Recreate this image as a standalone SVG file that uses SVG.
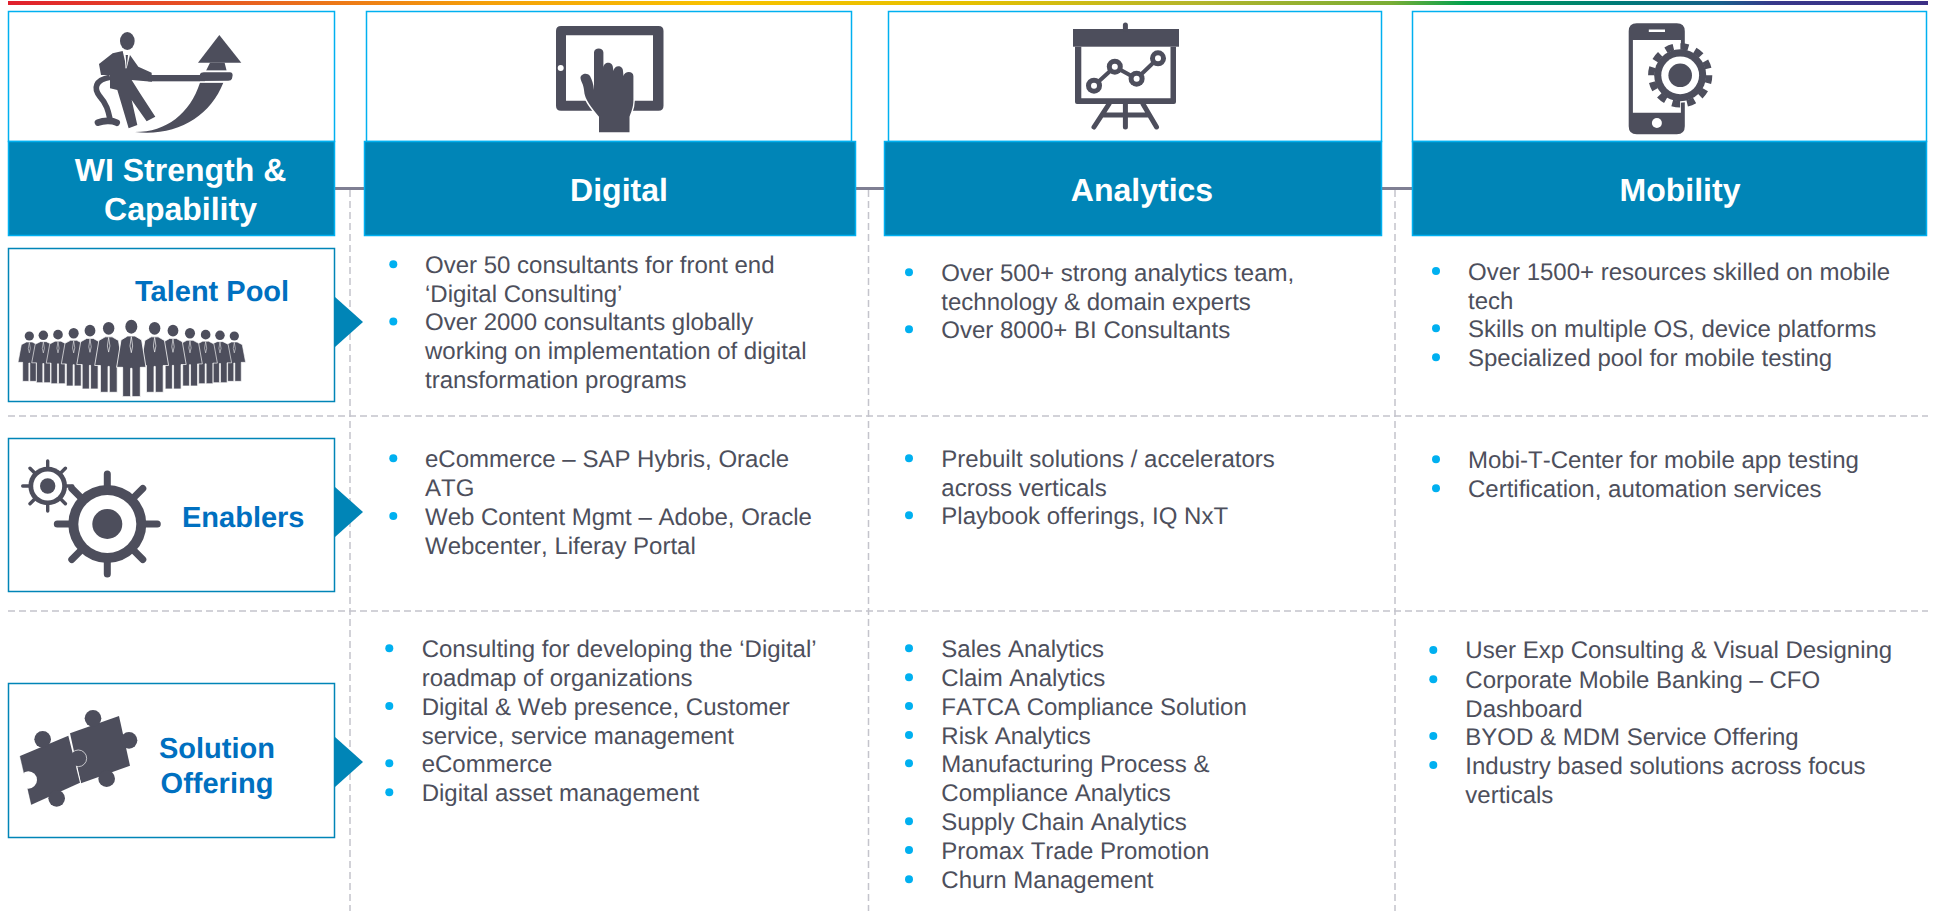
<svg xmlns="http://www.w3.org/2000/svg" xmlns:xlink="http://www.w3.org/1999/xlink" width="1933" height="911" viewBox="0 0 1933 911">
<style>
text{font-family:"Liberation Sans",Arial,sans-serif;text-rendering:geometricPrecision}
.b{font-size:24px;fill:#4d4f5c;font-kerning:none}
.h{font-size:32px;font-weight:700;fill:#fff;text-anchor:middle}
.r{font-size:29px;font-weight:700;fill:#0070c0}
.top{fill:#fff;stroke:#00b0f0;stroke-width:1.5}
.head{fill:#0085b7;stroke:#00b0f0;stroke-width:1.5}
.row{fill:#fff;stroke:#0085b7;stroke-width:1.5}
.tri{fill:#0085b7}
.dot{fill:#00b0f0}
.ic{fill:#4d4e5c}
.dash{stroke:#c4c4cc;stroke-width:1.5;stroke-dasharray:7 4;fill:none}
.link{stroke:#7f7f93;stroke-width:3;fill:none}
</style>
<defs>
<linearGradient id="rainbow" x1="8" x2="1928" y1="0" y2="0" gradientUnits="userSpaceOnUse">
<stop offset="0" stop-color="#e01f2d"/>
<stop offset="0.13" stop-color="#e8641f"/>
<stop offset="0.25" stop-color="#f5a00a"/>
<stop offset="0.37" stop-color="#f8c200"/>
<stop offset="0.5" stop-color="#e6c000"/>
<stop offset="0.62" stop-color="#b4b52c"/>
<stop offset="0.72" stop-color="#7aad35"/>
<stop offset="0.76" stop-color="#00a04f"/>
<stop offset="0.84" stop-color="#007a78"/>
<stop offset="0.89" stop-color="#17608a"/>
<stop offset="0.92" stop-color="#38388a"/>
<stop offset="1" stop-color="#3c2f85"/>
</linearGradient>
<g id="person">
<ellipse cx="0" cy="0" rx="18" ry="21" fill="#4d4e5c"/>
<path d="M-11 28L11 28L31 40L44 122L27 122L27 210L2 210L2 125L-2 125L-2 210L-26 210L-26 122L-44 122L-31 40Z" fill="#4d4e5c" stroke="#fff" stroke-width="2.500"/>
<path d="M0 30L-4 58L0 78L4 58Z" fill="none" stroke="#fff" stroke-width="2"/>
</g>
</defs>
<rect x="8" y="1" width="1920" height="4" fill="url(#rainbow)"/>

<g id="connectors">
<path class="dash" d="M8 416H1928M8 611H1928"/>
<path class="dash" d="M350 190V911M868.500 190V911M1395 190V911"/>
<path class="link" d="M335 188.500H364M856 188.500H884M1382 188.500H1412"/>
</g>

<g id="col-capability">
<rect class="top" x="8.500" y="11.500" width="326" height="130"/>
<rect class="head" x="8.500" y="141.500" width="326" height="94"/>
<g transform="scale(.3333)" class="ic">
<ellipse cx="382" cy="123" rx="22" ry="27"/>
<path d="M297 192L338 160L368 153L380 205L390 165L415 200L455 218L456 245L395 240L420 280L466 350L440 364L395 300L412 375L386 385L352 270L330 265L330 225L303 225Z"/>
<path d="M375 155L378 205L383 155" fill="#fff" stroke="#fff" stroke-width="2"/>
<path d="M377 165L380 203L384 165Z"/>
<path d="M330 232C285 240 280 265 300 290C322 315 325 335 330 358" fill="none" stroke="#4d4e5c" stroke-width="17"/>
<path d="M294 368C310 362 335 360 350 368" fill="none" stroke="#4d4e5c" stroke-width="20" stroke-linecap="round"/>
<path d="M658 105L724 188L594 188Z"/>
<path d="M630 188L674 188L680 212L618 212Z"/>
<path d="M405 396C500 396 570 340 600 248L670 248C630 350 530 410 405 396Z"/>
<rect x="445" y="225" width="170" height="19"/>
<path d="M600 222Q602 217 612 217L690 217Q698 217 698 226L696 236Q694 242 685 242L600 243Z"/>
<path d="M604 213H690M600 246H690" stroke="#fff" stroke-width="3" fill="none"/>
</g>
<text class="h" x="180.500" y="180.500">WI Strength &amp;</text>
<text class="h" x="180.500" y="219.500">Capability</text>
</g>

<g id="col-digital">
<rect class="top" x="366.500" y="11.500" width="485" height="130"/>
<rect class="head" x="364.500" y="141.500" width="491" height="94"/>
<g class="ic">
<path fill-rule="evenodd" d="M561 26H658.500Q663.500 26 663.500 31V105.700Q663.500 110.700 658.500 110.700H561Q556 110.700 556 105.700V31Q556 26 561 26ZM566 35.300V100.700H653V35.300Z"/>
<circle cx="560.700" cy="68" r="3" fill="#fff"/>
<path d="M594 52.500C594 47 603.400 47 603.400 52.500L603.400 68C603.400 61 613 61 613 68L613.500 71C614 64.500 623 64.500 623 71L623.500 76C624.500 70.500 633.400 70.500 633.400 76L633.400 100C633.400 108 631 112 629.500 116.700V132.300H599V116.700C592 108 584.500 100 584 90C583.500 84 581 82 580.500 78C580.500 74 587 72 590 76C592 80 593.500 84 594 90Z" stroke="#fff" stroke-width="3" paint-order="stroke"/>
</g>
<text class="h" x="619" y="201">Digital</text>
</g>

<g id="col-analytics">
<rect class="top" x="888.500" y="11.500" width="493" height="130"/>
<rect class="head" x="884.500" y="141.500" width="497" height="94"/>
<g class="ic">
<rect x="1073" y="29" width="106" height="17.700"/>
<path d="M1125.400 25V29" stroke="#4d4e5c" stroke-width="5" stroke-linecap="round"/>
<path fill-rule="evenodd" d="M1075 46.700H1176V102Q1176 104 1174 104H1077Q1075 104 1075 102ZM1081.300 46.700V98.300H1170.500V46.700Z"/>
<path d="M1094 85.700L1114.800 66.700L1136.600 78.700L1158 58.300" fill="none" stroke="#4d4e5c" stroke-width="4"/>
<circle cx="1094" cy="85.700" r="8"/><circle cx="1114.800" cy="66.700" r="8"/><circle cx="1136.600" cy="78.700" r="8"/><circle cx="1158" cy="58.300" r="8"/>
<g fill="#fff"><circle cx="1094" cy="85.700" r="3"/><circle cx="1114.800" cy="66.700" r="3"/><circle cx="1136.600" cy="78.700" r="3"/><circle cx="1158" cy="58.300" r="3"/></g>
<path d="M1109 104L1094 127M1143 104L1156.500 127M1125.400 104V127M1103 115H1148" fill="none" stroke="#4d4e5c" stroke-width="5" stroke-linecap="round"/>
</g>
<text class="h" x="1142" y="201">Analytics</text>
</g>

<g id="col-mobility">
<rect class="top" x="1412.500" y="11.500" width="514" height="130"/>
<rect class="head" x="1412.500" y="141.500" width="514" height="94"/>
<g class="ic">
<path fill-rule="evenodd" d="M1636.700 23.300H1676.800Q1684.800 23.300 1684.800 31.300V126.300Q1684.800 134.300 1676.800 134.300H1636.700Q1628.700 134.300 1628.700 126.300V31.300Q1628.700 23.300 1636.700 23.300ZM1632.900 40V112.700H1680.900V40Z"/>
<rect x="1648.800" y="29.500" width="16.200" height="2.500" fill="#fff"/>
<circle cx="1656.900" cy="123" r="5" fill="#fff"/>
<circle cx="1680.200" cy="75.300" r="26" stroke="#fff" stroke-width="3"/>
<circle cx="1680.200" cy="75.300" r="26"/>
<circle cx="1680.200" cy="75.300" r="28.800" fill="none" stroke="#4d4e5c" stroke-width="6.600" stroke-dasharray="8 7.080"/>
<circle cx="1680.200" cy="75.300" r="18.900" fill="#fff"/>
<circle cx="1680.200" cy="75.300" r="11.800"/>
</g>
<text class="h" x="1680" y="201">Mobility</text>
</g>

<g id="row-talent">
<rect class="row" x="8.500" y="248.500" width="326" height="153"/>
<path class="tri" d="M335 297L363 322L335 347Z"/>
<g transform="translate(0 240) scale(.3333)">
<use xlink:href="#person" href="#person" transform="translate(88 288) scale(.77 .648)"/>
<use xlink:href="#person" href="#person" transform="translate(703 288) scale(.77 .648)"/>
<use xlink:href="#person" href="#person" transform="translate(130 286) scale(.79 .676)"/>
<use xlink:href="#person" href="#person" transform="translate(660 286) scale(.79 .676)"/>
<use xlink:href="#person" href="#person" transform="translate(174 284) scale(.8 .7)"/>
<use xlink:href="#person" href="#person" transform="translate(617 284) scale(.8 .7)"/>
<use xlink:href="#person" href="#person" transform="translate(221 280) scale(.84 .752)"/>
<use xlink:href="#person" href="#person" transform="translate(570 280) scale(.84 .752)"/>
<use xlink:href="#person" href="#person" transform="translate(270 272) scale(.9 .833)"/>
<use xlink:href="#person" href="#person" transform="translate(519 272) scale(.9 .833)"/>
<use xlink:href="#person" href="#person" transform="translate(326 265) scale(.95 .914)"/>
<use xlink:href="#person" href="#person" transform="translate(464 265) scale(.95 .914)"/>
<use xlink:href="#person" href="#person" transform="translate(394 260)"/>
</g>
<text class="r" x="135" y="300.500">Talent Pool</text>
</g>

<g id="row-enablers">
<rect class="row" x="8.500" y="438.500" width="326" height="153"/>
<path class="tri" d="M335 487L363 512L335 537Z"/>
<g class="ic">
<g transform="translate(47.700 486)">
<path d="M0-25V25M-25 0H25M-17.700-17.700L17.700 17.700M-17.700 17.700L17.700-17.700" stroke="#4d4e5c" stroke-width="3.400" stroke-linecap="round"/>
<circle r="19.300"/><circle r="14.500" fill="#fff"/><circle r="7.700"/>
</g>
<g transform="translate(107.300 524)">
<path d="M0-50V50M-50 0H50M-35.500-35.500L35.500 35.500M-35.500 35.500L35.500-35.500" stroke="#4d4e5c" stroke-width="7" stroke-linecap="round"/>
<circle r="39"/><circle r="29" fill="#fff"/><circle r="15"/>
</g>
</g>
<text class="r" x="182" y="526.500">Enablers</text>
</g>

<g id="row-solution">
<rect class="row" x="8.500" y="683.500" width="326" height="154"/>
<path class="tri" d="M335 737L363 762L335 787Z"/>
<g transform="translate(0 600) scale(.3333)" class="ic">
<path d="M210 400L357 348L390 497L243 550Z"/>
<circle cx="279" cy="355" r="25"/><circle cx="387" cy="421" r="25"/><circle cx="320" cy="536" r="25"/>
<path d="M60 468L205 407L240 548L94 614Z" stroke="#fff" stroke-width="5"/>
<circle cx="235" cy="475" r="25" stroke="#fff" stroke-width="2"/>
<path d="M60 468L205 407L240 548L94 614Z"/>
<circle cx="128" cy="418" r="25"/><circle cx="170" cy="595" r="25"/>
<circle cx="85" cy="540" r="26" fill="#fff"/>
<path d="M60 468L72 520M84 568L94 614" stroke="#4d4e5c" stroke-width="1"/>
</g>
<text class="r" x="217" y="757.500" text-anchor="middle">Solution</text>
<text class="r" x="217" y="792.500" text-anchor="middle">Offering</text>
</g>

<g id="talent-digital">
<circle class="dot" cx="393.300" cy="264.300" r="4"/><circle class="dot" cx="393.300" cy="321.500" r="4"/>
<text class="b" x="425" y="272.500">Over 50 consultants for front end</text>
<text class="b" x="425" y="301.700">‘Digital Consulting’</text>
<text class="b" x="425" y="330">Over 2000 consultants globally</text>
<text class="b" x="425" y="359">working on implementation of digital</text>
<text class="b" x="425" y="388">transformation programs</text>
</g>
<g id="talent-analytics">
<circle class="dot" cx="909" cy="272.300" r="4"/><circle class="dot" cx="909" cy="329.300" r="4"/>
<text class="b" x="941.300" y="280.700">Over 500+ strong analytics team,</text>
<text class="b" x="941.300" y="309.700">technology &amp; domain experts</text>
<text class="b" x="941.300" y="337.700">Over 8000+ BI Consultants</text>
</g>
<g id="talent-mobility">
<circle class="dot" cx="1436" cy="271" r="4"/><circle class="dot" cx="1436" cy="328.300" r="4"/><circle class="dot" cx="1436" cy="357.300" r="4"/>
<text class="b" x="1468" y="280">Over 1500+ resources skilled on mobile</text>
<text class="b" x="1468" y="308.700">tech</text>
<text class="b" x="1468" y="337">Skills on multiple OS, device platforms</text>
<text class="b" x="1468" y="366">Specialized pool for mobile testing</text>
</g>

<g id="enablers-digital">
<circle class="dot" cx="393.300" cy="458.300" r="4"/><circle class="dot" cx="393.300" cy="516" r="4"/>
<text class="b" x="425" y="466.700">eCommerce – SAP Hybris, Oracle</text>
<text class="b" x="425" y="495.700">ATG</text>
<text class="b" x="425" y="525">Web Content Mgmt – Adobe, Oracle</text>
<text class="b" x="425" y="554">Webcenter, Liferay Portal</text>
</g>
<g id="enablers-analytics">
<circle class="dot" cx="909" cy="458.300" r="4"/><circle class="dot" cx="909" cy="515.300" r="4"/>
<text class="b" x="941.300" y="466.700">Prebuilt solutions / accelerators</text>
<text class="b" x="941.300" y="495.700">across verticals</text>
<text class="b" x="941.300" y="524">Playbook offerings, IQ NxT</text>
</g>
<g id="enablers-mobility">
<circle class="dot" cx="1436" cy="459.300" r="4"/><circle class="dot" cx="1436" cy="488.300" r="4"/>
<text class="b" x="1468" y="468">Mobi-T-Center for mobile app testing</text>
<text class="b" x="1468" y="496.700">Certification, automation services</text>
</g>

<g id="solution-digital">
<circle class="dot" cx="389.300" cy="648.300" r="4"/><circle class="dot" cx="389.300" cy="706" r="4"/><circle class="dot" cx="389.300" cy="763.300" r="4"/><circle class="dot" cx="389.300" cy="792.300" r="4"/>
<text class="b" x="421.700" y="656.700">Consulting for developing the ‘Digital’</text>
<text class="b" x="421.700" y="685.700">roadmap of organizations</text>
<text class="b" x="421.700" y="714.700">Digital &amp; Web presence, Customer</text>
<text class="b" x="421.700" y="743.700">service, service management</text>
<text class="b" x="421.700" y="772">eCommerce</text>
<text class="b" x="421.700" y="801">Digital asset management</text>
</g>
<g id="solution-analytics">
<circle class="dot" cx="909" cy="648.300" r="4"/><circle class="dot" cx="909" cy="677.300" r="4"/><circle class="dot" cx="909" cy="706" r="4"/><circle class="dot" cx="909" cy="735" r="4"/><circle class="dot" cx="909" cy="763.300" r="4"/><circle class="dot" cx="909" cy="821.300" r="4"/><circle class="dot" cx="909" cy="850" r="4"/><circle class="dot" cx="909" cy="879.300" r="4"/>
<text class="b" x="941.300" y="656.700">Sales Analytics</text>
<text class="b" x="941.300" y="685.700">Claim Analytics</text>
<text class="b" x="941.300" y="714.700">FATCA Compliance Solution</text>
<text class="b" x="941.300" y="743.700">Risk Analytics</text>
<text class="b" x="941.300" y="772">Manufacturing Process &amp;</text>
<text class="b" x="941.300" y="801">Compliance Analytics</text>
<text class="b" x="941.300" y="830">Supply Chain Analytics</text>
<text class="b" x="941.300" y="858.700">Promax Trade Promotion</text>
<text class="b" x="941.300" y="887.700">Churn Management</text>
</g>
<g id="solution-mobility">
<circle class="dot" cx="1433.300" cy="650" r="4"/><circle class="dot" cx="1433.300" cy="679.300" r="4"/><circle class="dot" cx="1433.300" cy="736" r="4"/><circle class="dot" cx="1433.300" cy="765" r="4"/>
<text class="b" x="1465.300" y="658.300">User Exp Consulting &amp; Visual Designing</text>
<text class="b" x="1465.300" y="687.700">Corporate Mobile Banking – CFO</text>
<text class="b" x="1465.300" y="716.700">Dashboard</text>
<text class="b" x="1465.300" y="745">BYOD &amp; MDM Service Offering</text>
<text class="b" x="1465.300" y="774">Industry based solutions across focus</text>
<text class="b" x="1465.300" y="802.700">verticals</text>
</g>
</svg>
